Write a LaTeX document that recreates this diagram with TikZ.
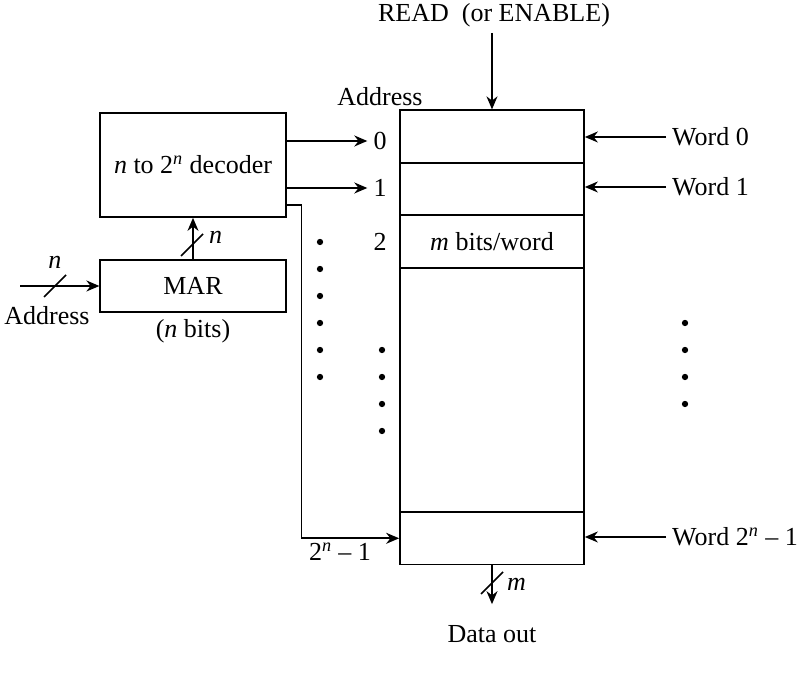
\documentclass[tikz,border=0pt]{standalone}
\usepackage{fontspec}
\setmainfont{Liberation Serif}
\usetikzlibrary{positioning,arrows.meta,calc}

\begin{document}
\begin{tikzpicture}[x=0.02cm, y=-0.02cm,
    font=\fontsize{14.8}{17}\selectfont,
    box/.style={draw, line width=1pt, minimum width=3.71cm, inner sep=3pt},
    row/.style={draw, line width=1pt, minimum width=3.68cm, minimum height=1.05cm},
    arr/.style={-{Stealth[length=2.6mm, width=2.2mm]}, line width=1pt},
    bus/.style={line width=1pt}
  ]
    \useasboundingbox (0,0) rectangle (802,678);

    \node[box, minimum height=2.08cm] (dec) at (193,165) {\textit{n} to 2\textsuperscript{\textit{n}} decoder};
    \node[box, minimum height=1.04cm] (mar) at (193,286) {MAR};
    \node (bits) at (193,331) {(\textit{n} bits)};

    \node[row] (w0) at (492,136.5) {};
    \node[row] (w1) at (492,189) {};
    \node[row] (w2) at (492,241.5) {\textit{m} bits/word};
    \node[row, minimum height=4.885cm] (wmid) at (492,389.9) {};
    \node[row] (wlast) at (492,538.3) {};

    \node (read) at (494,15) {READ\ \ (or ENABLE)};
    \node (addr) at (380,97) {Address};
    \node (a0) at (380,141) {0};
    \node (a1) at (380,188) {1};
    \node (a2) at (380,242) {2};
    \node (alast) at (340,552) {2\textsuperscript{\textit{n}} -- 1};

    \node[anchor=west] (lw0) at (666,137) {Word 0};
    \node[anchor=west] (lw1) at (666,187) {Word 1};
    \node[anchor=west] (lwlast) at (666,537) {Word 2\textsuperscript{\textit{n}} -- 1};

    \node (ain) at (47,316) {Address};
    \coordinate (inbeg) at (20,286);
    \node (dout) at (492,634) {Data out};

    \draw[arr] (read.south -| w0.north) -- (w0.north);
    \draw[arr] (dec.east |- a0) -- (a0);
    \draw[arr] (dec.east |- a1) -- (a1);
    \draw[arr] ([yshift=-0.8cm]dec.east) -- ++(15,0) |- (wlast.west);
    \draw[arr] (lw0.west) -- (w0.east |- lw0.west);
    \draw[arr] (lw1.west) -- (w1.east |- lw1.west);
    \draw[arr] (lwlast.west) -- (wlast.east |- lwlast.west);

    \draw[arr] (inbeg) -- (mar.west);
    \draw[bus] (44,297) -- (66,275);
    \node at (55,262) {\textit{n}};

    \draw[arr] (mar.north) -- (dec.south);
    \draw[bus] (181,256) -- (203,234);
    \node[anchor=west] at (203,237) {\textit{n}};

    \draw[arr] (wlast.south) -- ([yshift=0.3cm]dout.north);
    \draw[bus] (481,594) -- (503,572);
    \node[anchor=west] at (501,584) {\textit{m}};

    \foreach \y in {242,269,296,323,350,377}
      \fill (320,\y) circle[radius=1.8pt];
    \foreach \y in {350,377,404,431}
      \fill (382,\y) circle[radius=1.8pt];
    \foreach \y in {323,350,377,404}
      \fill (685,\y) circle[radius=1.8pt];
\end{tikzpicture}
\end{document}
